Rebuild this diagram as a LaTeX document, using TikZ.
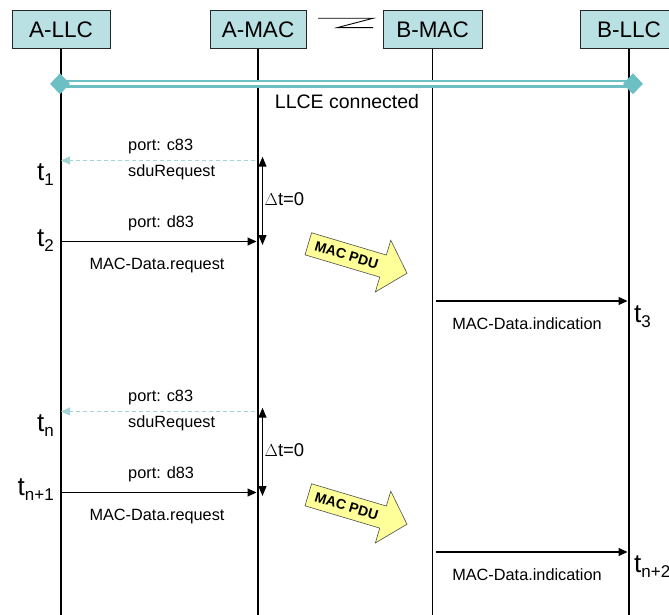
\documentclass[tikz,border=0pt]{standalone}
\usepackage{fontspec}
\setmainfont{Liberation Sans}
\usetikzlibrary{arrows.meta,shapes.geometric}

\definecolor{boxfill}{HTML}{B9E0E2}
\definecolor{llce}{HTML}{6CBFC2}
\definecolor{dashc}{HTML}{A3D5D8}
\definecolor{pdu}{HTML}{FFFF99}

% lowered subscript for the time stamps
\newcommand{\lowsub}[1]{\raisebox{-5pt}{\fontsize{17}{17}\selectfont #1}}

\begin{document}
\begin{tikzpicture}[x=1pt,y=-1pt,
  entity/.style={draw=black!85, line width=0.8pt, fill=boxfill,
    minimum width=98pt, minimum height=38pt, inner sep=0pt,
    font=\fontsize{22.5}{22.5}\selectfont},
  lifeline/.style={line width=1.6pt},
  msg/.style={line width=1.1pt, -{Triangle[length=9pt,width=8pt]}},
  dashmsg/.style={dashc, line width=1.1pt, dash pattern=on 4pt off 3pt,
    -{Triangle[length=9pt,width=8pt]}},
  dtarrow/.style={line width=1.1pt,
    {Triangle[length=10pt,width=8pt]}-{Triangle[length=10pt,width=8pt]}},
  lbl/.style={inner sep=0pt, font=\fontsize{16.3}{16.3}\selectfont},
  tlab/.style={inner sep=0pt, font=\fontsize{26}{26}\selectfont},
  pduarrow/.style={fill=pdu, draw=black!70, line width=0.6pt, line join=miter},
  pdulabel/.style={inner sep=0pt, font=\bfseries\fontsize{14}{14}\selectfont},
  endmark/.style={diamond, fill=llce, inner sep=0pt, minimum width=20pt,
    minimum height=21pt},
]
\useasboundingbox (0,0) rectangle (669,615);

% entities
\node[entity] (allc) at (61,29.5) {A-LLC};
\node[entity, minimum width=96pt] (amac) at (258,29.5) {A-MAC};
\node[entity, minimum width=99pt] (bmac) at (432.5,29.5) {B-MAC};
\node[entity] (bllc) at (629,29.5) {B-LLC};

% radio link symbol between the two MAC entities
\draw[line width=0.9pt] (318,18.3) -- (373,18.3) -- (337,27.7) -- (373,27.7);

% lifelines
\coordinate (allc-end) at (61,615);
\coordinate (amac-end) at (258,615);
\coordinate (bmac-end) at (432.5,615);
\coordinate (bllc-end) at (629,615);
\draw[lifeline] (allc.south) -- (allc-end);
\draw[lifeline] (amac.south) -- (amac-end);
\draw[lifeline] (bmac.south) -- (bmac-end);
\draw[lifeline] (bllc.south) -- (bllc-end);

% LLCE connection
\coordinate (llceA) at (60,83.8);
\coordinate (llceB) at (633,83.8);
\draw[llce, line width=2.7pt, double=white, double distance=2.6pt] (llceA) -- (llceB);
\node[endmark] (diaA) at (llceA) {};
\node[endmark] (diaB) at (llceB) {};
\node[inner sep=0pt, font=\fontsize{19.5}{19.5}\selectfont] (llcetxt) at (347,102) {LLCE connected};

% two identical request/indication sequences
\foreach \dy/\ta/\tb/\tc/\ya/\yb/\yc/\g in
  {0/1/2/3/180/246/322/a, 251/n/n+1/n+2/431/495/572/b}{
  % sduRequest (A-MAC -> A-LLC)
  \coordinate (sq-m\g) at (258,160.5+\dy);
  \coordinate (sq-l\g) at (61,160.5+\dy);
  \draw[dashmsg, shorten <=3pt] (sq-m\g) -- (sq-l\g);
  \node[lbl, anchor=west] (c83\g) at (128,146.5+\dy) {port: c83};
  \node[lbl, anchor=west] (sdu\g) at (128,172.5+\dy) {sduRequest};
  \node[tlab, anchor=base east] (ta\g) at (54,\ya) {t\lowsub{\ta}};
  % delta t
  \coordinate (dt-t\g) at (262.5,156.7+\dy);
  \coordinate (dt-b\g) at (262.5,245+\dy);
  \draw[dtarrow] (dt-t\g) -- (dt-b\g);
  \node[inner sep=0pt, anchor=west, font=\fontsize{18.5}{18.5}\selectfont] (dtt\g) at (264.5,199+\dy) {$\Delta$t=0};
  % MAC-Data.request (A-LLC -> A-MAC)
  \coordinate (rq-l\g) at (61,241.5+\dy);
  \coordinate (rq-m\g) at (258,241.5+\dy);
  \draw[msg, shorten >=1.5pt] (rq-l\g) -- (rq-m\g);
  \node[lbl, anchor=west] (d83\g) at (128,223+\dy) {port: d83};
  \node[lbl] (mdr\g) at (157,265.5+\dy) {MAC-Data.request};
  \node[tlab, anchor=base east] (tb\g) at (54,\yb) {t\lowsub{\tb}};
  % MAC PDU over the air
  \begin{scope}[shift={(308.3,243.8+\dy)}, rotate=-16.6]
    \draw[pduarrow] (0,-11.5) -- (78,-11.5) -- (78,-27) -- (103,0)
      -- (78,27) -- (78,11.5) -- (0,11.5) -- cycle;
    \node[pdulabel, transform shape] (pdu\g) at (40,0) {MAC PDU};
  \end{scope}
  % MAC-Data.indication (B-MAC -> B-LLC)
  \coordinate (in-m\g) at (432.5,301+\dy);
  \coordinate (in-l\g) at (629,301+\dy);
  \draw[msg, shorten <=3pt, shorten >=1.5pt] (in-m\g) -- (in-l\g);
  \node[lbl] (mdi\g) at (527,324+\dy) {MAC-Data.indication};
  \node[tlab, anchor=base west] (tc\g) at (634,\yc) {t\lowsub{\tc}};
}
\end{tikzpicture}
\end{document}
